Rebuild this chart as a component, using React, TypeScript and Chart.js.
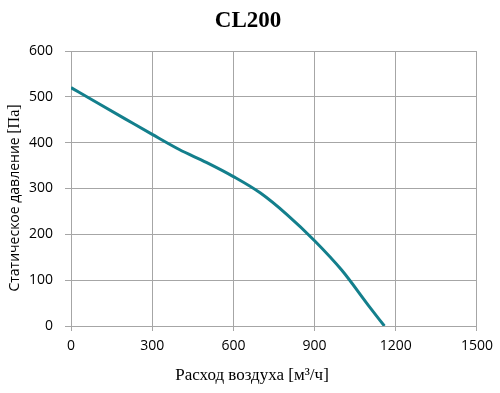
import React, { useEffect, useRef } from "react";
import { Chart, registerables } from "chart.js";

Chart.register(...registerables);

const titleText = "CL200";
const xAxisTitle = "Расход воздуха [м³/ч]";
const yAxisTitleMain = "Статическое давление ";
const yAxisTitleUnit = "[Па]";

const flow = [0, 100, 200, 300, 400, 500, 600, 700, 800, 900, 1000, 1100, 1158];
const pressure = [520, 486, 452, 418, 385, 357, 326, 290, 242, 186, 122, 44, 0];

const xTicks = [0, 300, 600, 900, 1200, 1500];
const yTicks = [0, 100, 200, 300, 400, 500, 600];

const LINE_COLOR = "#137f8c";
const GRID_COLOR = "#a6a6a6";

const textPlugin = {
  id: "textPlugin",
  afterDraw(chart: any) {
    const ctx = chart.ctx;
    ctx.save();
    ctx.fillStyle = "#000";
    ctx.textBaseline = "middle";
    // chart title
    ctx.font = "bold 23px 'Liberation Serif', serif";
    ctx.textAlign = "center";
    ctx.fillText(titleText, 248, 21);
    // x title
    ctx.font = "17px 'Liberation Serif', serif";
    ctx.fillText(xAxisTitle, 252, 376);
    // y title (rotated), mixed fonts
    ctx.translate(15, 198);
    ctx.rotate(-Math.PI / 2);
    const sansFont = "14px 'Open Sans', sans-serif";
    const serifFont = "16px 'Liberation Serif', serif";
    ctx.font = sansFont;
    const w1 = ctx.measureText(yAxisTitleMain).width;
    ctx.font = serifFont;
    const w2 = ctx.measureText(yAxisTitleUnit).width;
    const start = -(w1 + w2) / 2;
    ctx.textAlign = "left";
    ctx.font = sansFont;
    ctx.fillText(yAxisTitleMain, start, 0);
    ctx.font = serifFont;
    ctx.fillText(yAxisTitleUnit, start + w1, 0);
    ctx.restore();
  },
};

export default function App() {
  const ref = useRef<HTMLCanvasElement>(null);
  useEffect(() => {
    if (!ref.current) return;
    const chart = new Chart(ref.current, {
      type: "line",
      data: {
        datasets: [
          {
            data: flow.map((x, i) => ({ x, y: pressure[i] })),
            borderColor: LINE_COLOR,
            borderWidth: 3,
            pointRadius: 0,
            cubicInterpolationMode: "monotone",
            fill: false,
          },
        ],
      },
      options: {
        animation: false,
        responsive: false,
        maintainAspectRatio: false,
        layout: { padding: { left: 0, right: 22, top: 51, bottom: 0 } },
        plugins: {
          legend: { display: false },
          tooltip: { enabled: false },
          title: { display: false },
        },
        scales: {
          x: {
            type: "linear",
            min: 0,
            max: 1500,
            afterBuildTicks: (s: any) => {
              s.ticks = xTicks.map((v) => ({ value: v }));
            },
            afterFit: (s: any) => {
              s.height = 67;
            },
            grid: { color: GRID_COLOR, lineWidth: 1, tickLength: 5 },
            border: { color: GRID_COLOR },
            ticks: {
              color: "#000",
              padding: 7,
              maxRotation: 0,
              callback: (v: any) => String(v),
              font: { family: "'Open Sans', sans-serif", size: 14 },
            },
          },
          y: {
            type: "linear",
            min: 0,
            max: 600,
            afterBuildTicks: (s: any) => {
              s.ticks = yTicks.map((v) => ({ value: v }));
            },
            afterFit: (s: any) => {
              s.width = 71;
            },
            grid: { color: GRID_COLOR, lineWidth: 1, tickLength: 6 },
            border: { color: GRID_COLOR },
            ticks: {
              color: "#000",
              padding: 12,
              callback: (v: any) => String(v),
              font: { family: "'Open Sans', sans-serif", size: 14 },
            },
          },
        },
      },
      plugins: [textPlugin],
    });
    return () => chart.destroy();
  }, []);
  return (
    <div style={{ position: "fixed", left: 0, top: 0, width: 500, height: 393, background: "#fff" }}>
      <canvas ref={ref} width={500} height={393} style={{ width: 500, height: 393 }} />
    </div>
  );
}
